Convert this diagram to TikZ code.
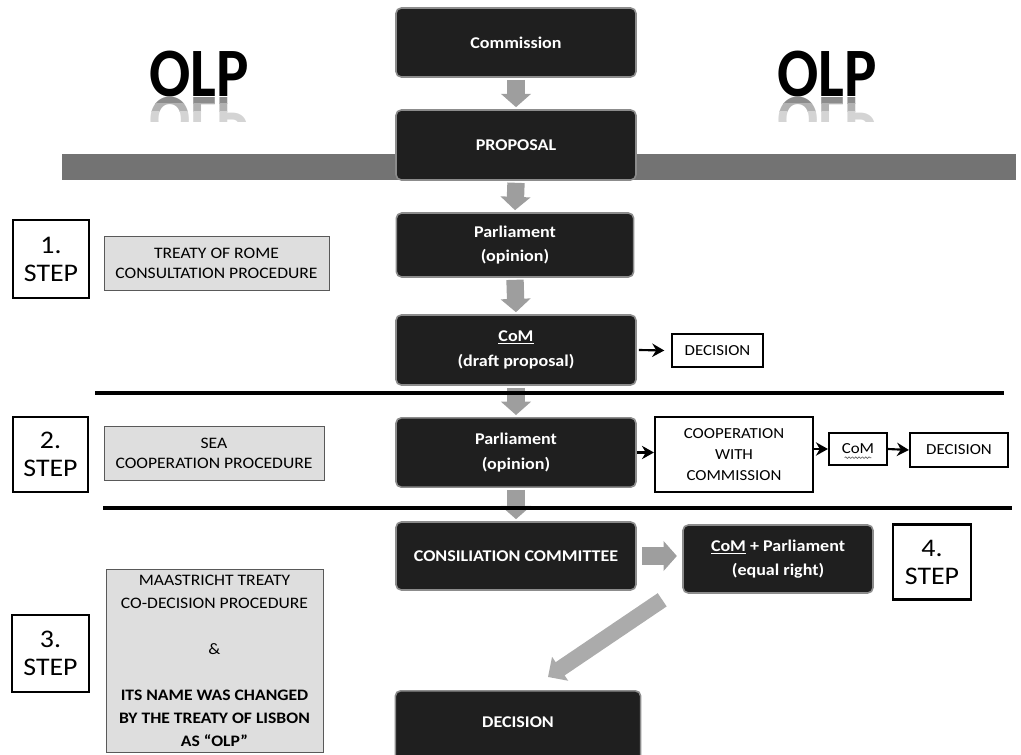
\documentclass[tikz,border=0pt]{standalone}
\usepackage{fontspec}
\setmainfont{Carlito}[FakeStretch=1.1]
\newfontfamily\olpfont{Carlito}[FakeStretch=0.88]
\usetikzlibrary{arrows.meta,decorations.pathmorphing}
\tikzset{
  darkbox/.style={draw=black!45, line width=1.2pt, fill=black!88, rounded corners=4pt,
    text=white, font=\fontsize{12.3}{18.5}\selectfont\bfseries, align=center,
    minimum width=180pt, inner sep=0pt},
  lightbox/.style={draw=black!65, line width=0.7pt, fill=black!13,
    font=\fontsize{12}{15}\selectfont, align=center, inner sep=0pt},
  whitebox/.style={draw=black, line width=1.6pt, fill=white,
    font=\fontsize{11.5}{15.75}\selectfont, align=center, inner sep=0pt},
  stepbox/.style={draw=black, line width=1.8pt, fill=white,
    font=\fontsize{19}{21}\selectfont, align=center, inner sep=0pt},
  bigarrow/.style={draw=black!38, line width=13pt, -{Triangle[width=22pt,length=10pt]}},
  diagarrow/.style={draw=black!33, line width=12pt, -{Triangle[width=21pt,length=11pt]}},
  thinarrow/.style={draw=black, line width=1.6pt, -{Stealth[length=9pt,width=10pt]}},
  sepline/.style={draw=black, line width=2.5pt},
  wavy/.style={draw=black!60, line width=0.5pt, decorate, decoration={snake, amplitude=0.6pt, segment length=2.5pt}},
  olp/.style={font={\olpfont\fontsize{52}{52}\selectfont\bfseries}, inner sep=0pt},
}
\begin{document}
\begin{tikzpicture}[x=0.75pt, y=-0.75pt]
\useasboundingbox (0,0) rectangle (1021,755);

% OLP titles with reflection
\node[olp, anchor=base] (olpL) at (199,97) {OLP};
\node[olp, anchor=base] (olpR) at (827,97) {OLP};
\foreach \ya/\yb/\c [count=\i] in {97/104/45, 104/112/30, 112/122/17}{
  \begin{scope}
    \clip (120,\ya) rectangle (280,\yb);
    \node[olp, anchor=north, text=black!\c] (rL\i) at (199,97) {\scalebox{1}[-1]{OLP}};
  \end{scope}
  \begin{scope}
    \clip (750,\ya) rectangle (910,\yb);
    \node[olp, anchor=north, text=black!\c] (rR\i) at (827,97) {\scalebox{1}[-1]{OLP}};
  \end{scope}
}

% gray band
\fill[black!55] (62,154) rectangle (1016,180);

% dark boxes (main column)
\node[darkbox, minimum height=51.75pt] (commission) at (516,42.5) {Commission};
\node[darkbox, minimum height=52.5pt] (proposal) at (516,145) {PROPOSAL};
\node[darkbox, minimum width=178pt, minimum height=48pt] (parl1) at (515,245) {Parliament\\(opinion)};
\node[darkbox, minimum height=52.5pt] (com1) at (516,350) {\underline{CoM}\\(draft proposal)};
\node[darkbox, minimum height=52pt] (parl2) at (516,452.5) {Parliament\\(opinion)};
\node[darkbox, minimum height=51pt] (consil) at (516,556) {CONSILIATION COMMITTEE};
\node[darkbox, minimum width=142.5pt, minimum height=51pt] (compar) at (778,559) {\underline{CoM} + Parliament\\(equal right)};
\node[darkbox, anchor=north, minimum width=184pt, text height=27.75pt, text depth=36pt] (decision) at (518,690) {DECISION};

% step boxes
\node[stepbox, minimum width=57pt, minimum height=58.5pt] (s1) at (51,259) {1.\\STEP};
\node[stepbox, minimum width=56.25pt, minimum height=56.25pt] (s2) at (50.5,454.5) {2.\\STEP};
\node[stepbox, minimum width=57.75pt, minimum height=57.75pt] (s3) at (50.5,653.5) {3.\\STEP};
\node[stepbox, minimum width=58.5pt, minimum height=56.25pt] (s4) at (932,562) {4.\\STEP};

% light info boxes
\node[lightbox, minimum width=168.75pt, minimum height=40.5pt] (treaty) at (216.5,263) {TREATY OF ROME\\CONSULTATION PROCEDURE};
\node[lightbox, minimum width=165pt, minimum height=40.5pt] (sea) at (214,453) {SEA\\COOPERATION PROCEDURE};
\node[lightbox, minimum width=162.75pt, minimum height=137.25pt, font=\fontsize{12}{17.25}\selectfont] (maas) at (214.5,661)
  {MAASTRICHT TREATY\\CO-DECISION PROCEDURE\\[17.25pt]\&\\[17.25pt]\textbf{ITS NAME WAS CHANGED}\\\textbf{BY THE TREATY OF LISBON}\\\textbf{AS “OLP”}};

% white boxes
\node[whitebox, minimum width=68.25pt, minimum height=24.75pt] (dec1) at (717.5,350.5) {DECISION};
\node[whitebox, minimum width=118.5pt, minimum height=56.25pt] (coop) at (734,454.5) {COOPERATION\\WITH\\COMMISSION};
\node[whitebox, minimum width=43.5pt, minimum height=24pt] (com2) at (858,449) {CoM};
\draw[wavy] ([xshift=-10pt,yshift=-6.5pt]com2.center) -- ([xshift=10pt,yshift=-6.5pt]com2.center);
\node[whitebox, minimum width=73.5pt, minimum height=25.5pt] (dec2) at (959,450) {DECISION};

% gray block arrows
\draw[bigarrow] ([yshift=-1.5pt]commission.south) -- ([yshift=1.5pt]proposal.north);
\draw[bigarrow] ([yshift=-1.5pt]proposal.south) -- ([yshift=1.5pt]parl1.north);
\draw[bigarrow] ([yshift=-1.5pt]parl1.south) -- ([yshift=1.5pt]com1.north);
\draw[bigarrow] ([yshift=-1.5pt]com1.south) -- ([yshift=1.5pt]parl2.north);
\draw[bigarrow] ([yshift=-1.5pt]parl2.south) -- ([yshift=1.5pt]consil.north);
\draw[bigarrow] ([xshift=4pt]consil.east) -- ([xshift=-4pt]consil.east -| compar.west);
\draw[diagarrow] ([xshift=-15pt,yshift=-4.5pt]compar.south west) -- ([xshift=22.5pt,yshift=9.75pt]decision.north);

% separator lines
\draw[sepline] (95,393) -- (1004,393);
\draw[sepline] (103,508) -- (1012,508);

% thin black arrows
\draw[thinarrow] ([xshift=1.5pt]com1.east) -- ([xshift=-5pt]dec1.west);
\draw[thinarrow] (parl2.east) -- (parl2.east -| coop.west);
\draw[thinarrow] (coop.east |- com2.west) -- (com2.west);
\draw[thinarrow] (com2.east) -- (dec2.west);
\end{tikzpicture}
\end{document}
